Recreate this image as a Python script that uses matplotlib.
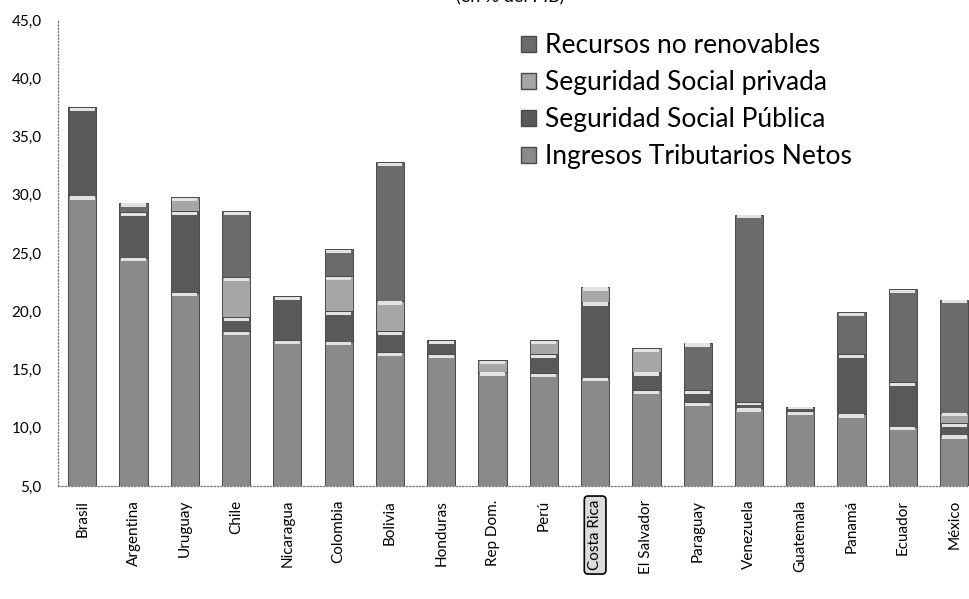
import numpy as np
import matplotlib
matplotlib.use("Agg")
import matplotlib.pyplot as plt
from matplotlib.ticker import FuncFormatter
from matplotlib.patches import Patch

# %% data (% del PIB)

countries = ["Brasil", "Argentina", "Uruguay", "Chile", "Nicaragua", "Colombia",
             "Bolivia", "Honduras", "Rep Dom.", "Perú", "Costa Rica", "El Salvador",
             "Paraguay", "Venezuela", "Guatemala", "Panamá", "Ecuador", "México"]

ingresos = [29.9, 24.6, 21.6, 18.3, 17.5, 17.4, 16.5, 16.3, 14.8, 14.7, 14.3, 13.2,
            12.2, 11.7, 11.4, 11.2, 10.1, 9.4]
ss_publica = [7.6, 3.9, 7.0, 1.2, 3.8, 2.6, 1.8, 1.2, 0.0, 1.6, 6.5, 1.6,
              1.0, 0.5, 0.4, 5.1, 3.8, 1.0]
ss_privada = [0.0, 0.0, 1.2, 3.4, 0.0, 3.0, 2.6, 0.0, 1.0, 1.2, 1.3, 2.0,
              0.0, 0.0, 0.0, 0.0, 0.0, 0.9]
recursos = [0.0, 0.8, 0.0, 5.7, 0.0, 2.3, 11.9, 0.0, 0.0, 0.0, 0.0, 0.0,
            4.1, 16.1, 0.0, 3.6, 8.0, 9.7]

series = [
    ("Ingresos Tributarios Netos", ingresos, "#8a8a8a"),
    ("Seguridad Social Pública", ss_publica, "#595959"),
    ("Seguridad Social privada", ss_privada, "#a6a6a6"),
    ("Recursos no renovables", recursos, "#6b6b6b"),
]

# %% plot

plt.rcParams["font.family"] = ["Lato", "DejaVu Sans"]

fig = plt.figure(figsize=(9.69, 5.99), dpi=100)
ax = fig.add_axes([0.060, 0.1887, 0.94, 0.778])

x = np.arange(len(countries))
width = 0.55
bottom = np.zeros(len(countries))

for name, vals, color in series:
    vals = np.array(vals)
    ax.bar(x, vals, width, bottom=bottom, color=color, edgecolor="#4a4a4a",
           linewidth=0.7, label=name, zorder=2)
    # light highlight at the top of every segment
    has = vals > 0
    hl = np.minimum(0.28, vals * 0.35)
    ax.bar(x[has], hl[has], width * 0.88, bottom=(bottom + vals - hl - 0.05)[has],
           color="#e2e2e2", linewidth=0, zorder=3)
    bottom = bottom + vals

ax.set_ylim(5, 45)
ax.set_xlim(-0.47, 17.29)
ax.set_yticks(np.arange(5, 46, 5))
ax.yaxis.set_major_formatter(FuncFormatter(lambda v, p: f"{v:.1f}".replace(".", ",")))
ax.tick_params(axis="y", length=0, labelsize=11, pad=12)
ax.tick_params(axis="x", length=0, labelsize=11, pad=10)

ax.set_xticks(x)
ax.set_xticklabels(countries, rotation=90)
for lbl in ax.get_xticklabels():
    if lbl.get_text() == "Costa Rica":
        lbl.set_bbox(dict(boxstyle="round,pad=0.25", facecolor="#dcdcdc",
                          edgecolor="black", linewidth=1.2))

for side in ["top", "right"]:
    ax.spines[side].set_visible(False)
for side in ["left", "bottom"]:
    ax.spines[side].set_linestyle(":")
    ax.spines[side].set_color("#777777")
    ax.spines[side].set_linewidth(0.9)

# legend order as in the original (top segment first)
handles = [Patch(facecolor=c, edgecolor="#4a4a4a", label=n) for n, v, c in series[::-1]]
fig.legend(handles=handles, loc="upper left", bbox_to_anchor=(0.527, 0.962),
           frameon=False, fontsize=19, handlelength=0.55, handleheight=0.55,
           handletextpad=0.35, labelspacing=0.45, borderaxespad=0)

# title is cut off at the top of the scan
fig.text(0.527, 1.004, "(en % del PIB)", ha="center", va="center", fontsize=13)

fig.savefig("out.png", dpi=100)
